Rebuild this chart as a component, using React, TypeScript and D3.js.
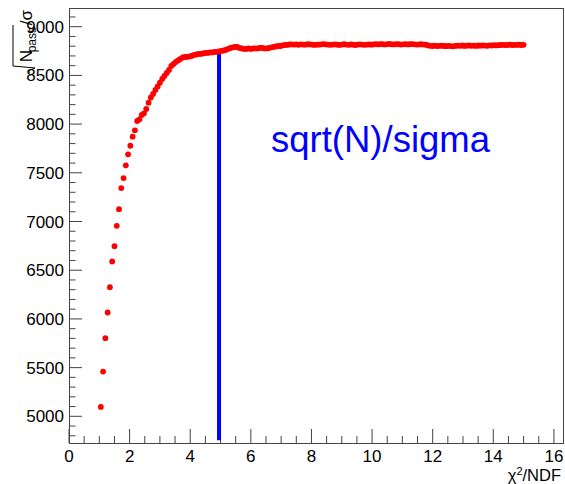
import React from "react";
import * as d3 from "d3";

// ---- data ----
const X_START = 1.05; // first chi2/NDF cut value
const X_STEP = 0.075; // cut step
const yValues = [
  5096, 5459, 5802, 6066, 6326, 6590, 6747, 6956, 7127, 7343,
  7446, 7577, 7690, 7778, 7871, 7936, 8032, 8049, 8094, 8111,
  8155, 8220, 8273, 8309, 8350, 8386, 8425, 8464, 8494, 8525,
  8556, 8597, 8618, 8638, 8654, 8669, 8685, 8690, 8690, 8695,
  8700, 8710, 8715, 8720, 8720, 8726, 8731, 8731, 8736, 8736,
  8741, 8741, 8746, 8751, 8756, 8762, 8772, 8782, 8787, 8792,
  8792, 8782, 8777, 8772, 8772, 8777, 8772, 8777, 8777, 8777,
  8782, 8782, 8777, 8777, 8782, 8787, 8792, 8797, 8802, 8802,
  8808, 8813, 8813, 8818, 8818,
  8816, 8818, 8814, 8819, 8817, 8815, 8820, 8818, 8816, 8813, 8817, 8815, 8819, 8821, 8818,
  8817, 8814, 8816, 8819, 8815, 8813, 8817, 8820, 8816, 8814, 8818, 8815, 8812, 8816, 8819, 8817, 8814, 8816, 8818, 8815,
  8819, 8821, 8818, 8822, 8820, 8817, 8821, 8823, 8819, 8818, 8822, 8820, 8817, 8819, 8821, 8818, 8820, 8822, 8819, 8816, 8818, 8820, 8817, 8815,
  8808, 8804, 8802, 8805, 8801, 8803, 8806, 8802, 8800, 8804, 8801, 8799, 8803,
  8806, 8804, 8807, 8803, 8805, 8808, 8804, 8806, 8803, 8807, 8805, 8808, 8806, 8804, 8809, 8807, 8810, 8808, 8811,
  8812, 8814, 8811, 8813, 8815, 8812, 8814, 8813, 8815, 8812, 8814,
];
const xValues = yValues.map((_, i) => X_START + i * X_STEP);

const CUT_X = 4.95;
const CUT_INDEX = 52;
const CUT_BOTTOM = 4755;

const X_DOMAIN = [0, 16.3];
const Y_DOMAIN = [4726, 9192];
const xMajorTicks = [0, 2, 4, 6, 8, 10, 12, 14, 16];
const yMajorTicks = [5000, 5500, 6000, 6500, 7000, 7500, 8000, 8500, 9000];
const LABEL_TEXT = "sqrt(N)/sigma";

// ---- layout ----
const W = 565;
const H = 484;
const L = 69;
const R = 563;
const T = 8;
const B = 443;
const FONT = "'Liberation Sans', Arial, Helvetica, sans-serif";
const AXIS = "#444";

export default function App() {
  const x = d3.scaleLinear().domain(X_DOMAIN).range([L, R]);
  const y = d3.scaleLinear().domain(Y_DOMAIN).range([B, T]);
  const xMinor = d3.range(0, X_DOMAIN[1], 0.5).filter((v) => !xMajorTicks.includes(v));
  const yMinor = d3
    .range(4800, Y_DOMAIN[1], 100)
    .filter((v) => v % 500 !== 0);

  return (
    <svg
      width={W}
      height={H}
      style={{ position: "absolute", left: 0, top: 0, background: "#fff" }}
      fontFamily={FONT}
    >
      <rect x={0} y={0} width={W} height={H} fill="#fff" />
      {/* frame */}
      <rect x={L + 0.5} y={T + 0.5} width={R - L} height={B - T} fill="none" stroke={AXIS} strokeWidth={1} />

      {/* x ticks */}
      {xMajorTicks.map((v) => (
        <g key={"xm" + v}>
          <line x1={x(v)} x2={x(v)} y1={B} y2={B - 14} stroke={AXIS} strokeWidth={1} />
          <text x={x(v)} y={461.5} fontSize={17} textAnchor="middle" fill="#000">
            {v}
          </text>
        </g>
      ))}
      {xMinor.map((v) => (
        <line key={"xn" + v} x1={x(v)} x2={x(v)} y1={B} y2={B - 7} stroke={AXIS} strokeWidth={1} />
      ))}

      {/* y ticks */}
      {yMajorTicks.map((v) => (
        <g key={"ym" + v}>
          <line x1={L} x2={L + 13} y1={y(v)} y2={y(v)} stroke={AXIS} strokeWidth={1} />
          <text x={64} y={y(v) + 6} fontSize={17} textAnchor="end" fill="#000">
            {v}
          </text>
        </g>
      ))}
      {yMinor.map((v) => (
        <line key={"yn" + v} x1={L} x2={L + 6.5} y1={y(v)} y2={y(v)} stroke={AXIS} strokeWidth={1} />
      ))}

      {/* x title */}
      <text x={561} y={481} fontSize={16.5} textAnchor="end" fill="#000">
        χ<tspan dy={-6} fontSize={11}>2</tspan>
        <tspan dy={6}>/NDF</tspan>
      </text>

      {/* y title (rotated) */}
      <g transform="translate(32,9) rotate(-90)" fill="#000">
        <text x={-1} y={0} fontSize={17} textAnchor="end">/σ</text>
        <text x={-18} y={3.5} fontSize={12} textAnchor="end">pass</text>
        <text x={-41} y={0} fontSize={17} textAnchor="end">N</text>
        <path
          d="M -16 -19 L -57 -19 L -59 3 L -62 -4 L -63.5 -2"
          fill="none"
          stroke="#000"
          strokeWidth={1}
        />
      </g>

      {/* cut line */}
      <line
        x1={x(CUT_X)}
        x2={x(CUT_X)}
        y1={y(CUT_BOTTOM)}
        y2={y(yValues[CUT_INDEX])}
        stroke="#0000ff"
        strokeWidth={4}
      />

      {/* data points */}
      {yValues.map((v, i) => (
        <circle key={i} cx={x(xValues[i])} cy={y(v)} r={2.9} fill="#ff0000" />
      ))}

      {/* annotation */}
      <text x={271} y={152} fontSize={36.5} fill="#0000ff">
        {LABEL_TEXT}
      </text>
    </svg>
  );
}
